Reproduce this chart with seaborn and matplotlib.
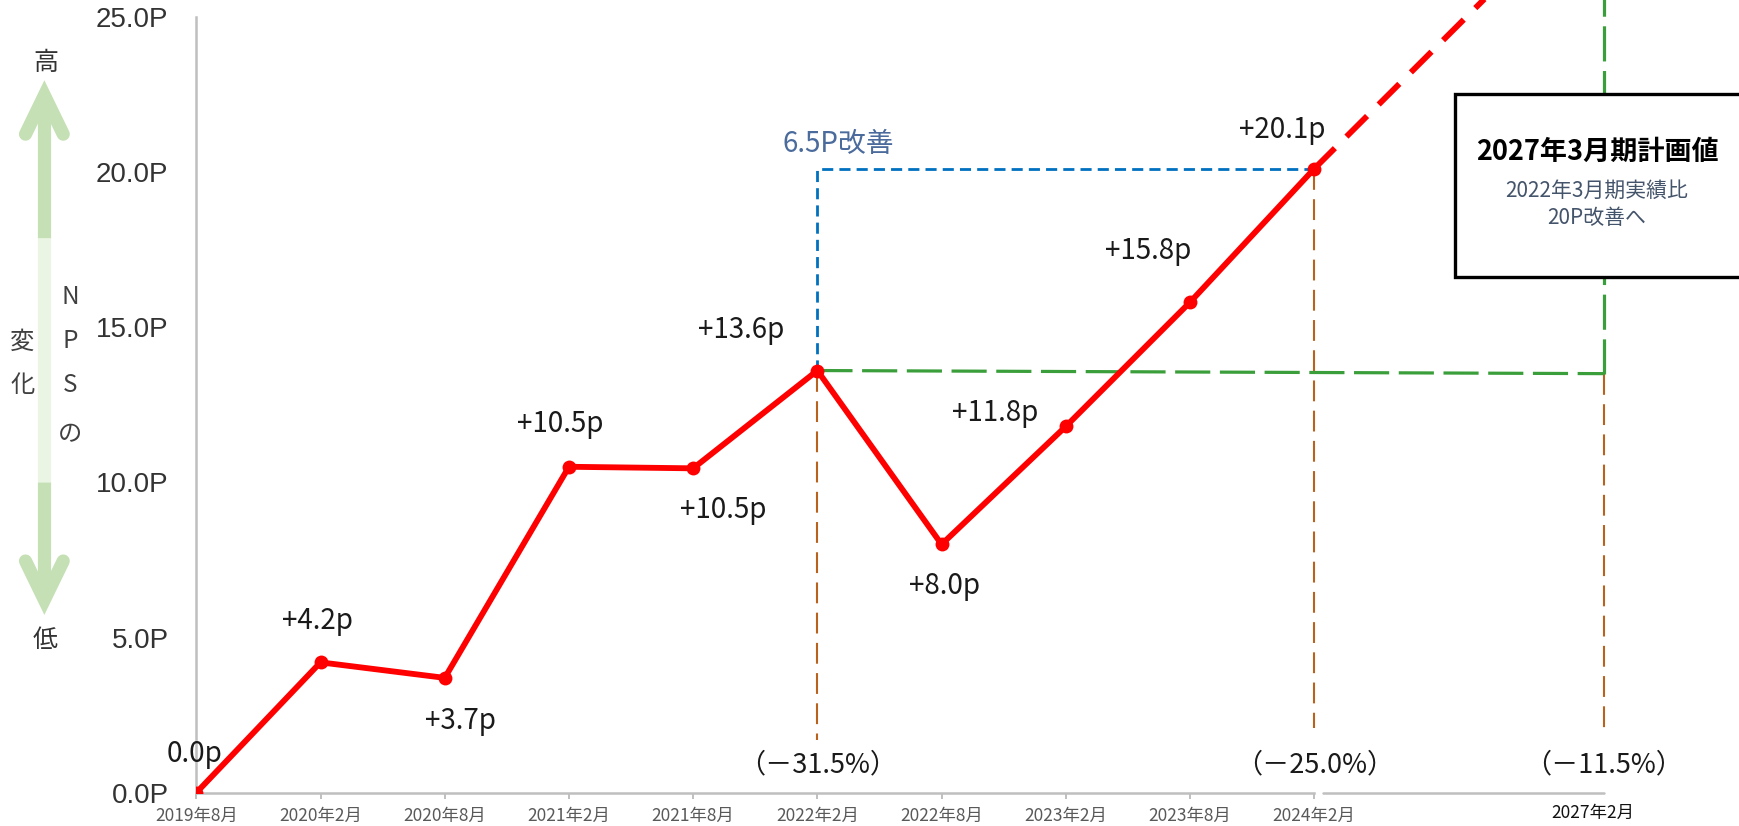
import matplotlib
matplotlib.use("Agg")
import matplotlib.pyplot as plt
import seaborn as sns
import pandas as pd
from matplotlib.lines import Line2D
from matplotlib.patches import Rectangle

# ---------------- data ----------------
periods = ["2019年8月", "2020年2月", "2020年8月", "2021年2月", "2021年8月",
           "2022年2月", "2022年8月", "2023年2月", "2023年8月", "2024年2月"]
nps_change = [0.0, 4.2, 3.7, 10.5, 10.45, 13.6, 8.0, 11.8, 15.8, 20.1]
point_labels = ["0.0p", "+4.2p", "+3.7p", "+10.5p", "+10.5p",
                "+13.6p", "+8.0p", "+11.8p", "+15.8p", "+20.1p"]
plan_period = "2027年2月"
plan_pos = 11.33          # category position of 2027年2月
plan_value = 29.4         # direction of the projected (dashed) line
baseline_value = 13.6     # 2022年2月
baseline_end_value = 13.5
pct_labels = ["（－31.5%）", "（－25.0%）", "（－11.5%）"]
y_ticks = [0, 5, 10, 15, 20, 25]
y_ticklabels = ["0.0P", "5.0P", "10.0P", "15.0P", "20.0P", "25.0P"]
improve_label = "6.5P改善"
box_title = "2027年3月期計画値"
box_sub = ["2022年3月期実績比", "20P改善へ"]

# ---------------- style ----------------
sns.set_theme(style="white")
CJK = ["Noto Sans CJK JP", "DejaVu Sans"]
plt.rcParams["font.family"] = CJK

W, H = 1568.0, 745.0  # layout reference grid


def F(px, py):
    return px / W, 1 - py / H


fig = plt.figure(figsize=(17.39, 8.26), dpi=100)
x0, y0 = 177, 715
step_x, step_y = 112.0, 28.0
ax = fig.add_axes([x0 / W, 1 - y0 / H, 1 - x0 / W, y0 / H])
ax.set_xlim(0, (W - x0) / step_x)
ax.set_ylim(0, y0 / step_y)
ax.set_facecolor("none")

df = pd.DataFrame({"pos": range(len(periods)), "value": nps_change})

# guide lines
brown = "#B8621E"
bls = (0, (10, 4.5))
ax.plot([5, 5], [nps_change[5], 1.7], color=brown, lw=1.5, ls=bls, zorder=1)
ax.plot([9, 9], [nps_change[9], 2.1], color=brown, lw=1.5, ls=bls, zorder=1)
ax.plot([plan_pos, plan_pos], [baseline_end_value, 2.1], color=brown, lw=1.5, ls=bls, zorder=1)

blue = "#0070C0"
ax.plot([5, 5, 9], [baseline_value, nps_change[9], nps_change[9]], color=blue, lw=2.0,
        ls=(0, (4, 2.2)), zorder=1)

green = "#3A9E3A"
ax.plot([5, plan_pos], [baseline_value, baseline_end_value], color=green, lw=2.3,
        ls=(0, (11, 3)), zorder=1)
ax.plot([plan_pos, plan_pos], [baseline_end_value, 26], color=green, lw=2.3,
        ls=(0, (11, 3)), zorder=1, clip_on=True)

# projection
proj = pd.DataFrame({"pos": [9, plan_pos], "value": [nps_change[9], plan_value]})
ax.plot(proj["pos"], proj["value"], color="#FF0000", lw=4.2, ls=(0, (5, 2.8)), zorder=2)

# main line
sns.lineplot(data=df, x="pos", y="value", color="#FF0000", linewidth=4.2, marker="o",
             markersize=10, markeredgewidth=0, ax=ax, zorder=3)

# data labels (offsets in points)
offsets = [(-1, 28), (-2, 30), (11, -31), (-6, 31), (22, -30),
           (-55, 29), (2, -30), (-51, 10), (-30, 37), (-23, 28)]
for i, (lab, off) in enumerate(zip(point_labels, offsets)):
    ax.annotate(lab, (i, nps_change[i]), xytext=off, textcoords="offset points",
                ha="center", va="center", fontsize=20, color="#1A1A1A",
                family=CJK, annotation_clip=False)

# percent labels
for xpos, lab in zip([5, 9, plan_pos], pct_labels):
    ax.text(xpos, 0.9, lab, ha="center", va="center", fontsize=19.5, color="#1A1A1A",
            family=CJK)

ax.text(4.72, 20.9, improve_label, ha="left", va="center", fontsize=20,
        color="#4A6B9C", family=CJK)

# axes
axis_gray = "#BFBFBF"
for s in ["top", "right"]:
    ax.spines[s].set_visible(False)
ax.spines["bottom"].set_bounds(0, 9)
ax.spines["left"].set_bounds(0, 25)
for s in ["bottom", "left"]:
    ax.spines[s].set_color(axis_gray)
    ax.spines[s].set_linewidth(1.8)
    ax.spines[s].set_zorder(0.5)
ax.plot([9.07, plan_pos], [0, 0], color=axis_gray, lw=1.8, clip_on=False, zorder=0.5)

ax.set_xticks(range(len(periods)))
ax.set_xticklabels(periods, fontsize=12.5, color="#595959", family=CJK)
ax.tick_params(axis="x", length=4, width=1.4, color=axis_gray, pad=6, bottom=True)
ax.set_yticks(y_ticks)
ax.set_yticklabels(y_ticklabels, fontsize=20, color="#333333",
                   family=["Liberation Sans", "DejaVu Sans"])
ax.tick_params(axis="y", length=0, pad=20)
ax.set_xlabel("")
ax.set_ylabel("")
ax.grid(False)
ax.text(11.24, -0.64, plan_period, ha="center", va="center", fontsize=12.5,
        color="#111111", family=CJK, clip_on=False)

# plan box
bx0, by0 = F(1312, 250)
bx1, by1 = F(1580, 85)
rect = Rectangle((bx0, by0), bx1 - bx0, by1 - by0, transform=fig.transFigure,
                 facecolor="white", edgecolor="black", lw=2.4, zorder=5)
fig.patches.append(rect)
fx, fy = F(1440, 137)
fig.text(fx, fy, box_title, ha="center", va="center", fontsize=19.5, fontweight="bold",
         color="black", family=CJK, zorder=6)
fx, fy = F(1440, 172)
fig.text(fx, fy, box_sub[0], ha="center", va="center", fontsize=15, color="#44546A",
         family=CJK, zorder=6)
fx, fy = F(1440, 197)
fig.text(fx, fy, box_sub[1], ha="center", va="center", fontsize=15, color="#44546A",
         family=CJK, zorder=6)

# left double arrow annotation
dark_g = "#C5E0B4"
light_g = "#EBF5E3"


def fline(pts, color, lw):
    xs = [F(p[0], p[1])[0] for p in pts]
    ys = [F(p[0], p[1])[1] for p in pts]
    fig.lines.append(Line2D(xs, ys, transform=fig.transFigure, color=color, lw=lw,
                            solid_capstyle="butt", solid_joinstyle="round"))


fline([(40, 86), (40, 215)], dark_g, 9.5)
fline([(40, 215), (40, 435)], light_g, 9.5)
fline([(40, 435), (40, 541)], dark_g, 9.5)
for pts in ([(23, 121), (40, 86), (57, 121)], [(23, 506), (40, 541), (57, 506)]):
    xs = [F(p[0], p[1])[0] for p in pts]
    ys = [F(p[0], p[1])[1] for p in pts]
    fig.lines.append(Line2D(xs, ys, transform=fig.transFigure, color=dark_g, lw=9.5,
                            solid_capstyle="round", solid_joinstyle="miter"))

fx, fy = F(41, 57)
fig.text(fx, fy, "高", ha="center", va="center", fontsize=18, color="#333333", family=CJK)
fx, fy = F(41, 577)
fig.text(fx, fy, "低", ha="center", va="center", fontsize=18, color="#333333", family=CJK)
for ch, yy in zip("変化", [308, 347]):
    fx, fy = F(20, yy)
    fig.text(fx, fy, ch, ha="center", va="center", fontsize=17.5, color="#404040", family=CJK)
for ch, yy in zip("NPSの", [268, 308, 347, 392]):
    fx, fy = F(63, yy)
    fig.text(fx, fy, ch, ha="center", va="center", fontsize=17.5, color="#404040", family=CJK)

fig.savefig("out.png", dpi=100)
